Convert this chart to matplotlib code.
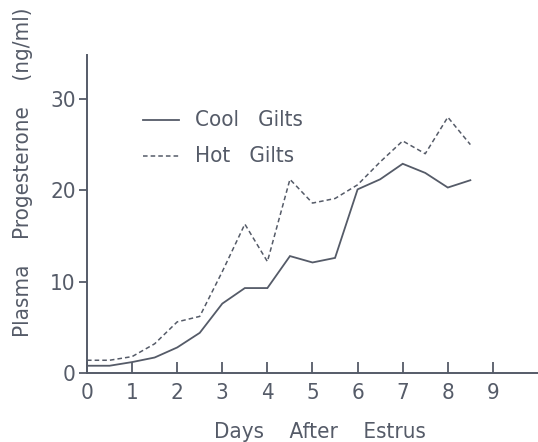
import matplotlib
matplotlib.use("Agg")
import matplotlib.pyplot as plt

days = [0, 0.5, 1, 1.5, 2, 2.5, 3, 3.5, 4, 4.5, 5, 5.5, 6, 6.5, 7, 7.5, 8, 8.5]
cool = [0.8, 0.8, 1.2, 1.7, 2.8, 4.4, 7.6, 9.3, 9.3, 12.8, 12.1, 12.6, 20.1, 21.2, 22.9, 21.9, 20.3, 21.1]
hot = [1.4, 1.4, 1.8, 3.2, 5.6, 6.2, 11.1, 16.3, 12.2, 21.2, 18.6, 19.1, 20.6, 23.1, 25.4, 24.0, 28.0, 25.0]
xticks = [0, 1, 2, 3, 4, 5, 6, 7, 8, 9]
yticks = [0, 10, 20, 30]
legend_labels = ["Cool   Gilts", "Hot   Gilts"]

col = "#555b68"
plt.rcParams['font.family'] = ["DejaVu Sans"]
plt.rcParams['font.stretch'] = 'condensed'

fig = plt.figure(figsize=(5.38, 4.42), dpi=100)
ax = fig.add_axes([0.1617, 0.156, 0.8383, 0.7195])
ax.plot(days, cool, color=col, lw=1.3, solid_joinstyle='miter')
ax.plot(days, hot, color=col, lw=1.1, linestyle=(0, (3, 2)))
ax.set_xlim(0, 10)
ax.set_ylim(0, 34.8)
for s in ['top', 'right']:
    ax.spines[s].set_visible(False)
for s in ['left', 'bottom']:
    ax.spines[s].set_color(col)
    ax.spines[s].set_linewidth(1.4)
ax.set_xticks(xticks)
ax.set_yticks(yticks)
ax.tick_params(axis='x', direction='in', length=8, width=1.3, color=col, pad=7, labelsize=16, labelcolor=col)
ax.tick_params(axis='y', direction='out', length=6, width=1.3, color=col, pad=2, labelsize=16, labelcolor=col)
ax.set_xlabel("Days    After    Estrus", fontsize=16, color=col, labelpad=14)
ax.xaxis.set_label_coords(0.517, -0.155)
ax.set_ylabel("Plasma    Progesterone    (ng/ml)", fontsize=16, color=col, labelpad=6)
ax.yaxis.set_label_coords(-0.12, 0.63)

ax.plot([1.25, 2.05], [27.7, 27.7], color=col, lw=1.3)
ax.plot([1.25, 2.05], [23.7, 23.7], color=col, lw=1.1, linestyle=(0, (3, 2)))
ax.text(2.4, 27.7, legend_labels[0], fontsize=16, color=col, va='center', ha='left')
ax.text(2.4, 23.7, legend_labels[1], fontsize=16, color=col, va='center', ha='left')

fig.savefig("out.png", dpi=100)
